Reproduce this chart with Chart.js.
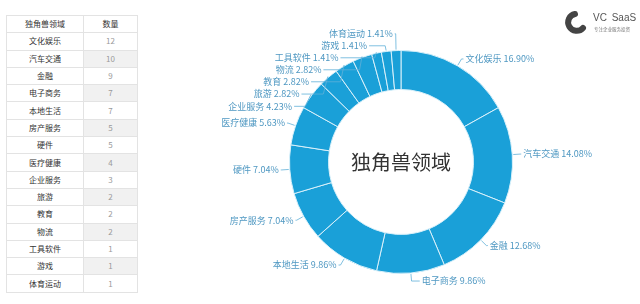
<!DOCTYPE html>
<html>
<head>
<meta charset="utf-8">
<script src="https://cdn.jsdelivr.net/npm/chart.js@4"></script>
<style>
  html, body { margin:0; padding:0; background:#fff; }
  body { width:640px; height:304px; position:relative; overflow:hidden; font-family:"Noto Sans CJK SC","Noto Sans",sans-serif; }
  #tbl { position:absolute; left:6px; top:15px; border-collapse:collapse; font-size:8px; }
  #tbl td { border:1px solid #e3e3e3; height:16.3px; padding:0; text-align:center; line-height:16px; }
  #tbl td.n { width:53px; color:#9a9a9a; }
  #tbl td.c { width:76px; color:#333; }
  #tbl tr:nth-child(odd) td.n { background:#f1f1f1; }
  #tbl tr:first-child td.n { background:#fff; color:#333; }
  #wrap { position:absolute; left:0; top:0; width:640px; height:304px; }
  #logo { position:absolute; left:562px; top:9px; width:78px; height:30px; }
  #logo .t { position:absolute; left:31px; top:3px; font-family:"Liberation Sans","DejaVu Sans",sans-serif; font-size:10px; color:#555; white-space:nowrap; word-spacing:2px; }
  #logo .s { position:absolute; left:32px; top:17px; font-size:4.5px; color:#777; white-space:nowrap; }
</style>
</head>
<body>
<table id="tbl"></table>
<div id="wrap"><canvas id="c"></canvas></div>
<div id="logo">
  <svg width="26" height="28" viewBox="0 0 26 28" style="position:absolute;left:0;top:0">
    <path d="M13 5 A8.5 8.5 0 1 0 21 19" fill="none" stroke="#444" stroke-width="6" stroke-linecap="round"/>
  </svg>
  <div class="t">VC SaaS</div>
  <div class="s">专注企业服务投资</div>
</div>
<script>
const tableHeader = ["独角兽领域", "数量"];
const categories = ["文化娱乐","汽车交通","金融","电子商务","本地生活","房产服务","硬件","医疗健康","企业服务","旅游","教育","物流","工具软件","游戏","体育运动"];
const counts = [12,10,9,7,7,5,5,4,3,2,2,2,1,1,1];
const centerTitle = "独角兽领域";

// table
const tbl = document.getElementById('tbl');
function addRow(a, b) {
  const tr = document.createElement('tr');
  const td1 = document.createElement('td'); td1.className = 'c'; td1.textContent = a;
  const td2 = document.createElement('td'); td2.className = 'n'; td2.textContent = b;
  tr.appendChild(td1); tr.appendChild(td2); tbl.appendChild(tr);
}
addRow(tableHeader[0], tableHeader[1]);
categories.forEach((c, i) => addRow(c, counts[i]));

const total = counts.reduce((a, b) => a + b, 0);

const labelPlugin = {
  id: 'pieLabels',
  afterDatasetsDraw(chart) {
    const ctx = chart.ctx;
    const meta = chart.getDatasetMeta(0);
    const arcs = meta.data;
    if (!arcs.length) return;
    const cx = arcs[0].x, cy = arcs[0].y, r = arcs[0].outerRadius;
    const LEN = 8, LEN2 = 1, H = 12, VIEW_H = chart.height;
    const items = arcs.map((arc, i) => {
      const mid = (arc.startAngle + arc.endAngle) / 2;
      const dx = Math.cos(mid), dy = Math.sin(mid);
      const dir = dx >= 0 ? 1 : -1;
      const x1 = cx + (r + LEN) * dx;
      return { i, dx, dy, dir,
        x0: cx + (r + 1) * dx, y0: cy + (r + 1) * dy,
        x1, y1: cy + (r + LEN) * dy,
        x: x1 + dir * LEN2, y: cy + (r + LEN) * dy };
    });
    function adjust(list, dir) {
      list.sort((a, b) => a.y - b.y);
      const len = list.length;
      function shiftUp(end, delta) {
        for (let j = end; j >= 0; j--) {
          list[j].y -= delta;
          if (j > 0 && list[j].y > list[j - 1].y + H) break;
        }
      }
      function shiftDown(start, end, delta) {
        for (let j = start; j < end; j++) {
          list[j].y += delta;
          if (j > start && j + 1 < end && list[j + 1].y > list[j].y + H) {
            shiftUp(j, delta / 2);
            return;
          }
        }
        shiftUp(end - 1, delta / 2);
      }
      let lastY = 0;
      for (let i = 0; i < len; i++) {
        const d = list[i].y - lastY;
        if (d < 0) shiftDown(i, len, -d);
        lastY = list[i].y + H;
      }
      if (VIEW_H - lastY < 0) shiftUp(len - 1, lastY - VIEW_H);
      const up = [], down = [];
      list.forEach(it => (it.y >= cy ? down : up).push(it));
      function changeX(arr, isDown) {
        let last = isDown ? Number.MAX_VALUE : 0;
        arr.forEach(it => {
          const ddy = Math.abs(it.y - cy);
          let ddx = ddy < r + LEN ? Math.sqrt((r + LEN + LEN2) ** 2 - ddy * ddy) : Math.abs(it.x - cx);
          if (isDown && ddx >= last) ddx = last - 10;
          if (!isDown && ddx <= last) ddx = last + 10;
          it.x = cx + ddx * dir;
          last = ddx;
        });
      }
      changeX(up, false);
      changeX(down, true);
    }
    adjust(items.filter(it => it.dir > 0), 1);
    adjust(items.filter(it => it.dir < 0), -1);

    ctx.save();
    ctx.font = '9px "Noto Sans CJK SC", "Noto Sans", sans-serif';
    ctx.textBaseline = 'middle';
    items.forEach(it => {
      ctx.strokeStyle = '#5fb0d8';
      ctx.lineWidth = 0.8;
      ctx.beginPath();
      ctx.moveTo(it.x0, it.y0);
      ctx.lineTo(it.x1, it.y);
      ctx.lineTo(it.x, it.y);
      ctx.stroke();
      ctx.fillStyle = '#4f98c2';
      ctx.textAlign = it.dir > 0 ? 'left' : 'right';
      const pct = (counts[it.i] / total * 100).toFixed(2);
      ctx.fillText(categories[it.i] + ' ' + pct + '%', it.x + it.dir * 2, it.y);
    });
    ctx.restore();

    ctx.save();
    ctx.font = '20px "Noto Sans CJK SC", sans-serif';
    ctx.fillStyle = '#333';
    ctx.textAlign = 'center';
    ctx.textBaseline = 'middle';
    ctx.fillText(centerTitle, cx, cy);
    ctx.restore();
  }
};

new Chart(document.getElementById('c'), {
  type: 'doughnut',
  data: {
    labels: categories,
    datasets: [{
      data: counts,
      backgroundColor: '#1aa0d8',
      borderColor: '#d8f0fa',
      borderWidth: 1
    }]
  },
  options: {
    responsive: true,
    maintainAspectRatio: false,
    animation: false,
    cutout: '65%',
    layout: { padding: { left: 289, right: 127, top: 50, bottom: 30 } },
    plugins: { legend: { display: false }, tooltip: { enabled: false } }
  },
  plugins: [labelPlugin]
});
</script>
</body>
</html>
